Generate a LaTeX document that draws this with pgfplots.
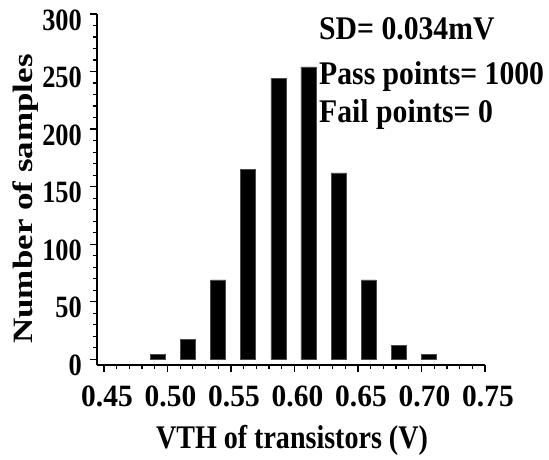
\documentclass[border=0pt]{standalone}
\usepackage{pgfplots}
\pgfplotsset{compat=1.18}
\usepackage{fontspec}
\setmainfont{Liberation Serif}
\newfontfamily\annfont{Liberation Serif}[FakeStretch=0.9]
\newfontfamily\xlabfont{Liberation Serif}[FakeStretch=0.85]
\newfontfamily\xtickfont{Liberation Serif}[FakeStretch=0.95]
\newfontfamily\ytickfont{Liberation Serif}[FakeStretch=0.85]
\newfontfamily\ylabfont{Liberation Serif}[FakeStretch=1.25]
\pgfplotstableread{
x y
0.4926 4
0.5163 17
0.5400 69
0.5636 165
0.5873 244
0.6110 254
0.6347 162
0.6584 69
0.6820 12
0.7057 4
}\vthdata
\begin{document}
\begin{tikzpicture}
\useasboundingbox (0pt,0pt) rectangle (549pt,459pt);
\begin{axis}[
  at={(97pt,94pt)}, anchor=south west,
  scale only axis, width=388pt, height=351pt,
  xmin=0.4445, xmax=0.75, ymin=-5, ymax=300,
  axis x line=bottom, axis y line=left,
  axis line style={-, line width=1.6pt, black},
  tick align=outside,
  xtick={0.45,0.50,0.55,0.60,0.65,0.70,0.75},
  xticklabels={0.45,0.50,0.55,0.60,0.65,0.70,0.75},
  minor x tick num=4,
  ytick={0,50,100,150,200,250,300},
  yticklabels={0,50,100,150,200,250,300},
  minor y tick num=4,
  major tick length=7pt, minor tick length=4pt,
  tick style={line width=1.2pt, black},
  xticklabel style={font=\xtickfont\bfseries\fontsize{31}{35}\selectfont, anchor=base, inner sep=0pt, yshift=-34pt, xshift=3pt},
  yticklabel style={font=\ytickfont\bfseries\fontsize{31}{35}\selectfont, anchor=base east, inner sep=0pt, yshift=-16pt, xshift=-8pt},
  xlabel={VTH of transistors (V)},
  xlabel style={font=\xlabfont\bfseries\fontsize{33}{38}\selectfont, at={(axis description cs:0.5026,0)}, anchor=base, inner sep=0pt, yshift=-83pt},
  ylabel={Number of samples},
  ylabel style={font=\ylabfont\bfseries\fontsize{28}{32}\selectfont, at={(axis description cs:-0.165,0.473)}, anchor=base, inner sep=0pt},
  clip=false,
]
\addplot[ybar, bar width=0.0118, fill=black, draw=black!70, line width=0.6pt] table[x=x,y=y] {\vthdata};
\end{axis}
\node[anchor=base west, inner sep=0pt, font=\annfont\bfseries\fontsize{33}{38}\selectfont] at (319pt,419pt) {SD= 0.034mV};
\node[anchor=base west, inner sep=0pt, font=\annfont\bfseries\fontsize{33}{38}\selectfont] at (319pt,374pt) {Pass points= 1000};
\node[anchor=base west, inner sep=0pt, font=\annfont\bfseries\fontsize{33}{38}\selectfont] at (319pt,337pt) {Fail points= 0};
\end{tikzpicture}
\end{document}
